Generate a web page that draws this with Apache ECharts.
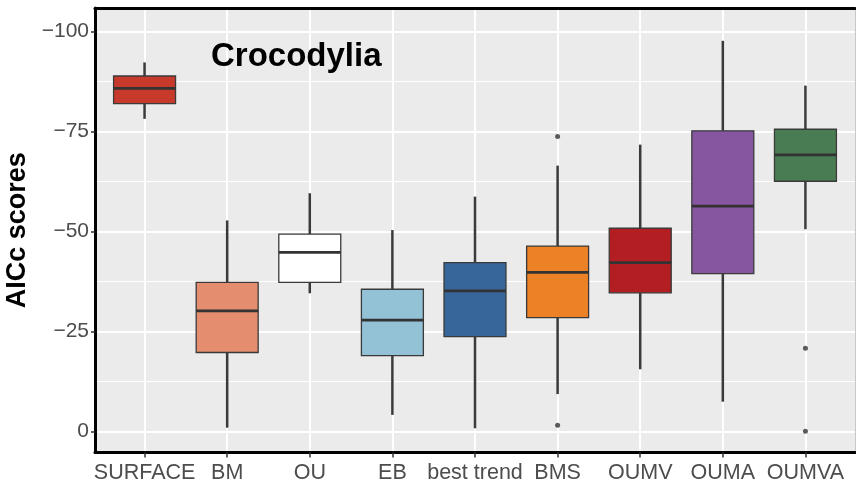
<!DOCTYPE html>
<html><head><meta charset="utf-8">
<script src="https://cdn.jsdelivr.net/npm/echarts@6/dist/echarts.min.js"></script>
<style>html,body{margin:0;padding:0;background:#fff}#c{width:856px;height:489px}</style>
</head><body><div id="c"></div>
<script>
const categories = ['SURFACE','BM','OU','EB','best trend','BMS','OUMV','OUMA','OUMVA'];
const whiskerLow  = [-78.2, -1.0, -34.6, -4.2, -0.85, -9.4, -15.6, -7.5, -50.6];
const q1          = [-82.0, -19.8, -37.3, -19.0, -23.75, -28.5, -34.7, -39.5, -62.6];
const medians     = [-85.8, -30.2, -44.8, -27.9, -35.2, -39.8, -42.25, -56.4, -69.2];
const q3          = [-88.9, -37.3, -49.4, -35.6, -42.25, -46.4, -50.85, -75.2, -75.6];
const whiskerHigh = [-92.3, -52.8, -59.6, -50.4, -58.75, -66.5, -71.75, -97.7, -86.5];
const outlierCats = ['BMS', 'BMS', 'OUMVA', 'OUMVA'];
const outlierVals = [-73.8, -1.6, -20.85, -0.1];
const boxColors = ['#c73a2b','#e48e6f','#ffffff','#93c2d7','#37679a','#ec8126','#b21e21','#8756a1','#4a7c54'];
const yTicks = [-100, -75, -50, -25, 0];
const yMinorTicks = [-87.5, -62.5, -37.5, -12.5];
const xTicks = categories.map((c, i) => i + 1);

const boxData = categories.map((c, i) => [i + 1, whiskerLow[i], q1[i], medians[i], q3[i], whiskerHigh[i]]);
const outlierData = outlierCats.map((c, i) => [categories.indexOf(c) + 1, outlierVals[i]]);

const chart = echarts.init(document.getElementById('c'), null, {renderer: 'canvas'});
const fam = '"Liberation Sans", Arial, Helvetica, sans-serif';
const edge = '#3a3a3a';

chart.setOption({
  animation: false,
  backgroundColor: '#ffffff',
  title: {
    text: 'Crocodylia', left: 211, top: 40, padding: 0,
    textStyle: {fontFamily: fam, fontSize: 33, fontWeight: 'bold', color: '#000'}
  },
  grid: {left: 95, right: 1, top: 8, bottom: 36.5, show: true, backgroundColor: '#ebebeb', borderWidth: 0,
    containLabel: false, outerBoundsMode: 'none'},
  xAxis: [{
    type: 'value', min: 0.4, max: 9.6, position: 'bottom',
    axisLine: {show: true, onZero: false, lineStyle: {color: '#000', width: 3}},
    axisTick: {show: true, customValues: xTicks, length: 5, lineStyle: {color: '#333', width: 1.5}},
    axisLabel: {show: true, customValues: xTicks, formatter: v => categories[Math.round(v) - 1] || '',
      fontFamily: fam, fontSize: 21.5, color: '#4d4d4d', margin: 10, hideOverlap: false},
    splitLine: {show: true, lineStyle: {color: '#ffffff', width: 2}}
  }, {
    type: 'value', min: 0.4, max: 9.6, position: 'top',
    axisLine: {show: true, onZero: false, lineStyle: {color: '#000', width: 3}},
    axisTick: {show: false}, axisLabel: {show: false}, splitLine: {show: false}
  }],
  yAxis: [{
    type: 'value', min: -105.9, max: 5.2, inverse: true, position: 'left',
    name: 'AICc scores', nameLocation: 'middle', nameGap: 63, nameRotate: 90,
    nameTextStyle: {fontFamily: fam, fontSize: 27, fontWeight: 'bold', color: '#000'},
    axisLine: {show: true, onZero: false, lineStyle: {color: '#000', width: 3}},
    axisTick: {show: true, customValues: yTicks, length: 4, lineStyle: {color: '#333', width: 1.5}},
    axisLabel: {show: true, customValues: yTicks, formatter: v => String(v).replace('-', '\u2212'),
      fontFamily: fam, fontSize: 21, color: '#4d4d4d', margin: 6},
    splitLine: {show: true, lineStyle: {color: '#ffffff', width: 2}}
  }, {
    type: 'value', min: -105.9, max: 5.2, inverse: true, position: 'right',
    axisLine: {show: true, onZero: false, lineStyle: {color: '#c8c8c8', width: 1}},
    axisTick: {show: false, customValues: yMinorTicks},
    axisLabel: {show: false, customValues: yMinorTicks},
    splitLine: {show: true, lineStyle: {color: '#ffffff', width: 1.2}}
  }],
  series: [{
    type: 'custom', xAxisIndex: 0, yAxisIndex: 0,
    data: boxData,
    encode: {x: 0, y: [1, 2, 3, 4, 5]},
    renderItem: function (params, api) {
      const x = api.value(0);
      const lo = api.coord([x, api.value(1)]);
      const b1 = api.coord([x, api.value(2)]);
      const md = api.coord([x, api.value(3)]);
      const b3 = api.coord([x, api.value(4)]);
      const hi = api.coord([x, api.value(5)]);
      const w = api.size([0.75, 0])[0];
      const color = boxColors[params.dataIndex];
      return {type: 'group', children: [
        {type: 'line', shape: {x1: lo[0], y1: lo[1], x2: b1[0], y2: b1[1]}, style: {stroke: edge, lineWidth: 2.5}},
        {type: 'line', shape: {x1: b3[0], y1: b3[1], x2: hi[0], y2: hi[1]}, style: {stroke: edge, lineWidth: 2.5}},
        {type: 'rect', shape: {x: md[0] - w / 2, y: Math.min(b1[1], b3[1]), width: w, height: Math.abs(b1[1] - b3[1])},
          style: {fill: color, stroke: edge, lineWidth: 1.3}},
        {type: 'line', shape: {x1: md[0] - w / 2, y1: md[1], x2: md[0] + w / 2, y2: md[1]}, style: {stroke: '#333', lineWidth: 2.8}}
      ]};
    }
  }, {
    type: 'scatter', xAxisIndex: 0, yAxisIndex: 0,
    data: outlierData, symbol: 'circle', symbolSize: 5,
    itemStyle: {color: '#333'}, z: 3
  }]
});
</script></body></html>
